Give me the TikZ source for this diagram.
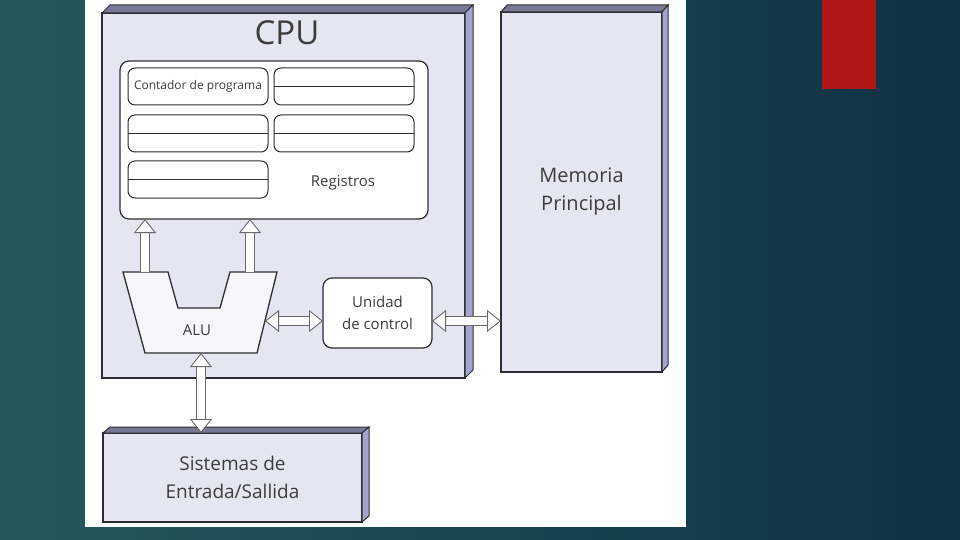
\documentclass[tikz,border=0pt]{standalone}
\usepackage{fontspec}
\setmainfont{Open Sans}
\usetikzlibrary{arrows.meta,calc}
\definecolor{face}{RGB}{230,230,243}
\definecolor{side}{RGB}{164,164,206}
\definecolor{topside}{RGB}{120,120,150}
\definecolor{edge}{RGB}{45,45,50}
\definecolor{ink}{RGB}{60,60,60}
\definecolor{buscol}{RGB}{105,105,105}
\definecolor{tealL}{RGB}{36,88,94}
\definecolor{tealR}{RGB}{15,50,68}
\definecolor{marker}{RGB}{176,22,22}
\begin{document}
\begin{tikzpicture}[x=1pt,y=-1pt,
  slab/.style={draw=edge,fill=face,line width=1.2pt,inner sep=0pt,outer sep=0pt},
  panel/.style={draw=edge,fill=white,line width=1.2pt,rounded corners=9pt,inner sep=0pt,outer sep=0pt},
  slot/.style={draw=edge,fill=white,line width=1pt,rounded corners=7pt,minimum width=140pt,minimum height=37pt,inner sep=0pt,outer sep=0pt},
  txt/.style 2 args={text=ink,align=center,font=\fontsize{#1}{#2}\selectfont},
  busup/.style={draw=buscol,line width=0.9pt,double=white,double distance=8pt,-{Triangle[width=22pt,length=14pt,fill=white]}},
  busboth/.style={draw=buscol,line width=0.9pt,double=white,double distance=8pt,{Triangle[width=22pt,length=14pt,fill=white]}-{Triangle[width=22pt,length=14pt,fill=white]}}]
\useasboundingbox (0,0) rectangle (960,540);
\shade[left color=tealL,right color=tealR] (0,0) rectangle (960,540);
\fill[marker] (822,0) rectangle (876,89);
\fill[white] (85,0) rectangle (686,527);

% cpu
\node[slab,minimum width=363pt,minimum height=365pt] (cpu) at (283.5,195.5) {};
\filldraw[draw=edge,fill=topside,line width=1pt] (cpu.north west) -- ++(8,-8) -- ++(363,0) -- (cpu.north east) -- cycle;
\filldraw[draw=edge,fill=side,line width=1pt] (cpu.north east) -- ++(8,-8) -- ++(0,365) -- (cpu.south east) -- cycle;
\node[txt={33}{36}] (cputxt) at (287,33) {CPU};

\node[panel,minimum width=308pt,minimum height=158pt] (regs) at (274,140) {};
\node[slot,txt={12}{14}] (r1) at (198,86.5) {Contador de programa};
\node[slot] (r2) at (344,86.5) {};
\node[slot] (r3) at (198,133.5) {};
\node[slot] (r4) at (344,133.5) {};
\node[slot] (r5) at (198,179.5) {};
\foreach \r in {r2,r3,r4,r5}
  \draw[edge,line width=1.2pt] (\r.west) -- (\r.east);
\node[txt={15}{18}] (regtxt) at (343,183) {Registros};

% alu
\filldraw[draw=edge,fill=face!40!white,line width=1.3pt] (123,272) -- (168,272) -- (178,308) -- (220,308) -- (230,272) -- (277,272) -- (257,353) -- (145,353) -- cycle;
\node[txt={15}{18}] (alu) at (197,330) {ALU};
\coordinate (alul) at (145,272);
\coordinate (alur) at (250,272);
\coordinate (aluside) at (265,321);
\coordinate (alubot) at (201,353);

\node[panel,minimum width=109pt,minimum height=70pt,txt={15}{22}] (uc) at (377.5,313) {Unidad\\de control};

% memoria
\node[slab,minimum width=161pt,minimum height=360pt,txt={20}{28}] (mem) at (581.5,192) {Memoria\\Principal};
\filldraw[draw=edge,fill=topside,line width=1pt] (mem.north west) -- ++(6,-7) -- ++(161,0) -- (mem.north east) -- cycle;
\filldraw[draw=edge,fill=side,line width=1pt] (mem.north east) -- ++(6,-7) -- ++(0,360) -- (mem.south east) -- cycle;

% entrada/salida
\node[slab,minimum width=259pt,minimum height=89pt,txt={19}{28}] (es) at (232.5,477.5) {Sistemas de\\Entrada/Sallida};
\filldraw[draw=edge,fill=topside,line width=1pt] (es.north west) -- ++(7,-6) -- ++(259,0) -- (es.north east) -- cycle;
\filldraw[draw=edge,fill=side,line width=1pt] (es.north east) -- ++(7,-6) -- ++(0,89) -- (es.south east) -- cycle;

% buses
\draw[busup] (alul) -- (alul |- regs.south);
\draw[busup] (alur) -- (alur |- regs.south);
\draw[busboth] (aluside) -- (uc.west |- aluside);
\draw[busboth] (uc.east |- aluside) -- (mem.west |- aluside);
\draw[busboth] (alubot) -- (alubot |- es.north);
\end{tikzpicture}
\end{document}
